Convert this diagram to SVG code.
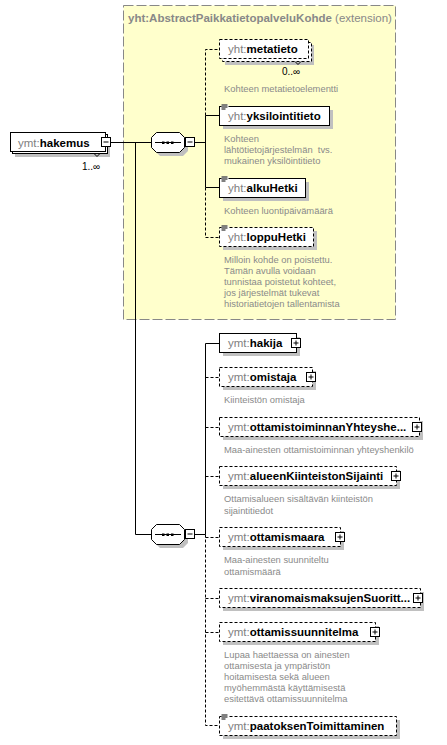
<svg xmlns="http://www.w3.org/2000/svg" width="447" height="745" viewBox="0 0 447 745">
<style>
text{font-family:"Liberation Sans",Arial,sans-serif}
.nm{font-size:11.5px;font-weight:bold;fill:#000}
.px{font-weight:normal;fill:#808080}
.ds{font-size:9.4px;fill:#8a8a8a}
.card{font-size:10px;fill:#000}
.box{fill:#fff;stroke:#000;stroke-width:1}
.dbox{fill:#fff;stroke:#000;stroke-width:1;stroke-dasharray:3,2}
.sh{fill:#c0c0c0}
.ln{stroke:#000;stroke-width:1;fill:none}
.dl{stroke:#000;stroke-width:1;fill:none;stroke-dasharray:3,2}
.pm{fill:#fff;stroke:#000;stroke-width:1}
</style>
<defs>
<g id="plus"><rect class="pm" x="0" y="0" width="9" height="9"/><path class="ln" d="M2,4.5H7M4.5,2V7"/></g>
<g id="minus"><rect class="pm" x="0" y="0" width="9" height="9"/><path class="ln" d="M2,4.5H7"/></g>
<g id="icon"><rect x="2" y="-2" width="7" height="6" fill="#fff"/><path class="ln" d="M2,-1.5H8M2,0.5H8M2,2.5H6"/></g>
<g id="seq">
<polygon class="sh" points="9,4 32,4 37,9 37,19 32,24 9,24 4,19 4,9"/>
<polygon class="box" points="5.5,0.5 28.5,0.5 33.5,5.5 33.5,15.5 28.5,20.5 5.5,20.5 0.5,15.5 0.5,5.5"/>
<path class="ln" d="M4,10.5H30"/>
<rect x="11" y="9.5" width="2.5" height="2.5" fill="#000"/>
<rect x="15.5" y="9.5" width="2.5" height="2.5" fill="#000"/>
<rect x="20" y="9.5" width="2.5" height="2.5" fill="#000"/>
</g>
</defs>

<g id="extension">
<rect x="123.5" y="5.5" width="272" height="314" fill="#ffffcc" stroke="#888" stroke-dasharray="10,3"/>
<text x="128" y="22" style="font-size:11.5px;font-weight:bold;fill:#888">yht:AbstractPaikkatietopalveluKohde<tspan style="font-weight:normal"> (extension)</tspan></text>
</g>

<g id="connectors">
<path class="ln" d="M110,142.5H151"/>
<path class="ln" d="M135.5,142.5V534.5H151"/>
<path class="ln" d="M194.5,142.5H205.5"/>
<path class="dl" d="M205.5,115.5V49.5H219"/>
<path class="ln" d="M205.5,115.5H219M205.5,115.5V187.5H219"/>
<path class="dl" d="M205.5,187.5V237.5H219"/>
<path class="ln" d="M194.5,534.5H205.5M205.5,534.5V343.5H219"/>
<path class="dl" d="M205.5,377.5H219M205.5,427.5H219M205.5,476.5H219"/>
<path class="dl" d="M205.5,534.5V725.5H219M205.5,537.5H219M205.5,598.5H219M205.5,632.5H219"/>
</g>

<g id="hakemus">
<rect class="sh" x="15" y="137" width="95" height="20"/>
<rect class="box" x="12.5" y="134.5" width="95" height="19"/>
<rect class="box" x="10.5" y="132.5" width="95" height="19"/>
<text class="nm" x="18" y="146.5"><tspan class="px">ymt:</tspan>hakemus</text>
<use href="#minus" x="101.5" y="137.5"/>
<path class="ln" d="M94,153.5L97,156.5L100,153.5"/>
<text class="card" x="82" y="170">1..∞</text>
</g>

<g id="sequence1"><use href="#seq" x="151" y="132"/><use href="#minus" x="185.5" y="137.5"/></g>

<g id="metatieto">
<rect class="sh" x="225" y="45" width="89" height="20"/>
<rect class="dbox" x="222.5" y="42.5" width="89" height="19"/>
<rect class="dbox" x="219.5" y="39.5" width="89" height="19"/>
<text class="nm" x="228" y="53"><tspan class="px">yht:</tspan>metatieto</text>
<path class="ln" d="M295,61.5L298,64.5L301,61.5"/>
<text class="card" x="282" y="75">0..∞</text>
<text class="ds" x="224" y="92">Kohteen metatietoelementti</text>
</g>

<g id="yksilointitieto">
<rect class="sh" x="223" y="110" width="110" height="19"/>
<rect class="box" x="219.5" y="106.5" width="110" height="19"/>
<use href="#icon" x="219.5" y="106.5"/>
<text class="nm" x="228" y="120"><tspan class="px">yht:</tspan>yksilointitieto</text>
<text class="ds" x="224" y="142">Kohteen</text>
<text class="ds" x="224" y="153" xml:space="preserve">lähtötietojärjestelmän  tvs.</text>
<text class="ds" x="224" y="164">mukainen yksilöintitieto</text>
</g>

<g id="alkuHetki">
<rect class="sh" x="223" y="182" width="86" height="19"/>
<rect class="box" x="219.5" y="178.5" width="86" height="19"/>
<use href="#icon" x="219.5" y="178.5"/>
<text class="nm" x="228" y="192"><tspan class="px">yht:</tspan>alkuHetki</text>
<text class="ds" x="224" y="214">Kohteen luontipäivämäärä</text>
</g>

<g id="loppuHetki">
<rect class="sh" x="223" y="231" width="94" height="19"/>
<rect class="dbox" x="219.5" y="227.5" width="94" height="19"/>
<use href="#icon" x="219.5" y="227.5"/>
<text class="nm" x="228" y="241"><tspan class="px">yht:</tspan>loppuHetki</text>
<text class="ds" x="224" y="263">Milloin kohde on poistettu.</text>
<text class="ds" x="224" y="274">Tämän avulla voidaan</text>
<text class="ds" x="224" y="285">tunnistaa poistetut kohteet,</text>
<text class="ds" x="224" y="296">jos järjestelmät tukevat</text>
<text class="ds" x="224" y="307">historiatietojen tallentamista</text>
</g>

<g id="sequence2"><use href="#seq" x="151" y="524"/><use href="#minus" x="185.5" y="529.5"/></g>

<g id="hakija">
<rect class="sh" x="223" y="337" width="77" height="19"/>
<rect class="box" x="219.5" y="333.5" width="77" height="19"/>
<text class="nm" x="228" y="347"><tspan class="px">ymt:</tspan>hakija</text>
<use href="#plus" x="291.5" y="338.5"/>
</g>

<g id="omistaja">
<rect class="sh" x="223" y="371" width="93" height="19"/>
<rect class="dbox" x="219.5" y="367.5" width="93" height="19"/>
<text class="nm" x="228" y="381"><tspan class="px">ymt:</tspan>omistaja</text>
<use href="#plus" x="306.5" y="372.5"/>
<text class="ds" x="224" y="403">Kiinteistön omistaja</text>
</g>

<g id="ottamistoiminnanYhteyshenkilo">
<rect class="sh" x="223" y="421" width="200" height="19"/>
<rect class="dbox" x="219.5" y="417.5" width="200" height="19"/>
<text class="nm" x="228" y="431"><tspan class="px">ymt:</tspan>ottamistoiminnanYhteyshe...</text>
<use href="#plus" x="412.5" y="422.5"/>
<text class="ds" x="224" y="453">Maa-ainesten ottamistoiminnan yhteyshenkilö</text>
</g>

<g id="alueenKiinteistonSijainti">
<rect class="sh" x="223" y="470" width="177" height="19"/>
<rect class="dbox" x="219.5" y="466.5" width="177" height="19"/>
<text class="nm" x="228" y="480"><tspan class="px">ymt:</tspan>alueenKiinteistonSijainti</text>
<use href="#plus" x="391.5" y="471.5"/>
<text class="ds" x="224" y="502">Ottamisalueen sisältävän kiinteistön</text>
<text class="ds" x="224" y="514">sijaintitiedot</text>
</g>

<g id="ottamismaara">
<rect class="sh" x="223" y="531" width="121" height="19"/>
<rect class="dbox" x="219.5" y="527.5" width="121" height="19"/>
<text class="nm" x="228" y="541"><tspan class="px">ymt:</tspan>ottamismaara</text>
<use href="#plus" x="335.5" y="532.5"/>
<text class="ds" x="224" y="563">Maa-ainesten suunniteltu</text>
<text class="ds" x="224" y="575">ottamismäärä</text>
</g>

<g id="viranomaismaksujenSuorittaminen">
<rect class="sh" x="223" y="592" width="201" height="19"/>
<rect class="dbox" x="219.5" y="588.5" width="201" height="19"/>
<text class="nm" x="228" y="602"><tspan class="px">ymt:</tspan>viranomaismaksujenSuoritt...</text>
<use href="#plus" x="413.5" y="593.5"/>
</g>

<g id="ottamissuunnitelma">
<rect class="sh" x="223" y="626" width="156" height="19"/>
<rect class="dbox" x="219.5" y="622.5" width="156" height="19"/>
<text class="nm" x="228" y="636"><tspan class="px">ymt:</tspan>ottamissuunnitelma</text>
<use href="#plus" x="370.5" y="627.5"/>
<text class="ds" x="224" y="658">Lupaa haettaessa on ainesten</text>
<text class="ds" x="224" y="669">ottamisesta ja ympäristön</text>
<text class="ds" x="224" y="680">hoitamisesta sekä alueen</text>
<text class="ds" x="224" y="691">myöhemmästä käyttämisestä</text>
<text class="ds" x="224" y="702">esitettävä ottamissuunnitelma</text>
</g>

<g id="paatoksenToimittaminen">
<rect class="sh" x="223" y="720" width="177" height="19"/>
<rect class="dbox" x="219.5" y="716.5" width="177" height="19"/>
<use href="#icon" x="219.5" y="716.5"/>
<text class="nm" x="228" y="730"><tspan class="px">ymt:</tspan>paatoksenToimittaminen</text>
</g>
</svg>
